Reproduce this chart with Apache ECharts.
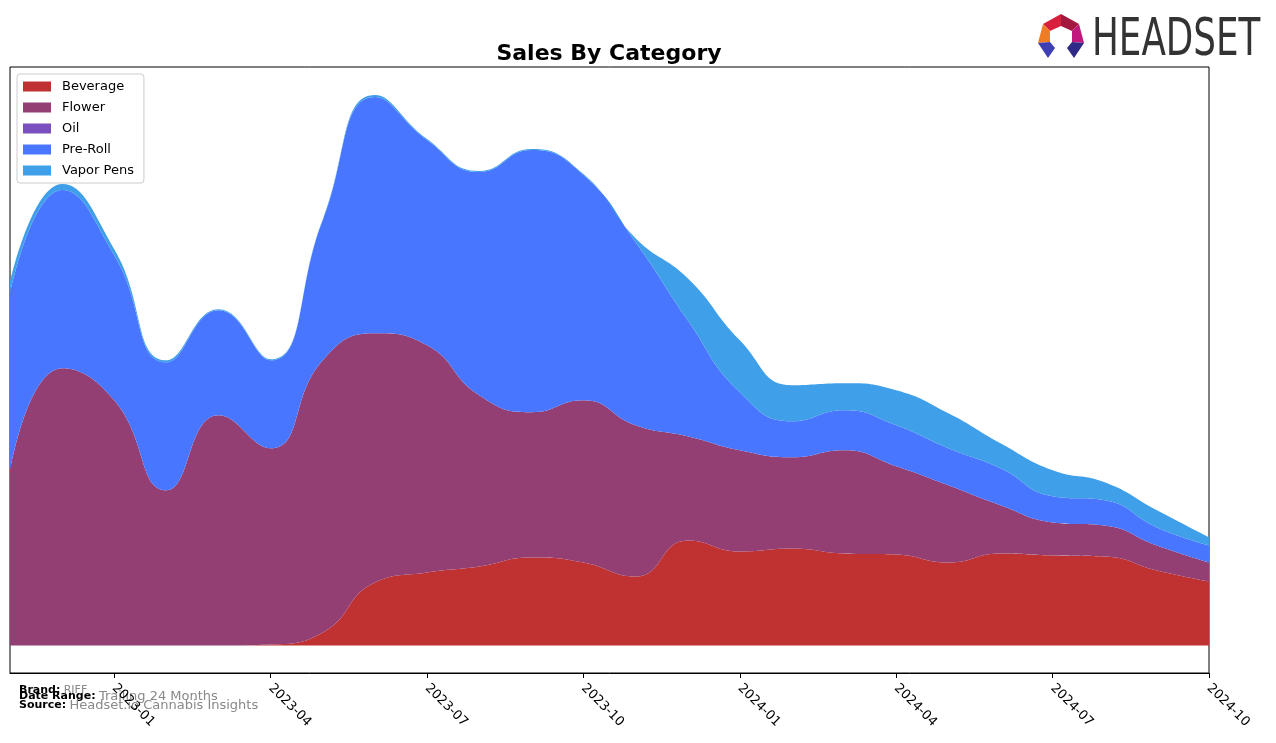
<!DOCTYPE html>
<html>
<head>
<meta charset="utf-8">
<script src="https://cdn.jsdelivr.net/npm/echarts@6/dist/echarts.min.js"></script>
<style>
html,body{margin:0;padding:0;background:#fff;}
#chart{width:1276px;height:743px;}
</style>
</head>
<body>
<div id="chart"></div>
<script>
const months = ['2022-11','2022-12','2023-01','2023-02','2023-03','2023-04','2023-05','2023-06','2023-07','2023-08','2023-09','2023-10','2023-11','2023-12','2024-01','2024-02','2024-03','2024-04','2024-05','2024-06','2024-07','2024-08','2024-09','2024-10'];
const tickLabels = ['2023-01','2023-04','2023-07','2023-10','2024-01','2024-04','2024-07','2024-10'];
const beverage  = [0,0,0,0,0,1,13,63,73,79,88,83,69,105,94,97,92,91,83,92,90,89,75,64];
const flower    = [175,277,245,155,230,196,272,249,227,171,145,162,151,104,101,91,103,88,77,48,33,31,25,19];
const oil       = [0,0,0,0,0,0,0,0,0,0,0,0,0,0,0,0,0,0,0,0,0,0,0,0];
const preRoll   = [177,178,145,128,105,88,140,236,205,223,262,225,183,116,58,36,40,41,37,37,26,25,18,17];
const vaporPens = [11,6,6,2,1,1,1,2,1,1,1,1,4,42,52,36,27,35,35,25,26,18,17,8];

const seriesNames = ['Beverage','Flower','Oil','Pre-Roll','Vapor Pens'];
const seriesData = [beverage, flower, oil, preRoll, vaporPens];
const colors = ['#c03232','#943f74','#7a4fbf','#4876ff','#3f9fe8'];

const chart = echarts.init(document.getElementById('chart'), null, {renderer:'canvas'});
const isTick = (i, v) => tickLabels.indexOf(v) >= 0;

chart.setOption({
  animation: false,
  backgroundColor: '#fff',
  color: colors,
  title: {
    text: 'Sales By Category',
    left: 609, top: 43, textAlign: 'center', padding: 0,
    textStyle: {fontFamily: 'DejaVu Sans', fontWeight: 'bold', fontSize: 22, color: '#000'}
  },
  legend: {
    orient: 'vertical', left: 17, top: 74,
    data: seriesNames,
    icon: 'rect', itemWidth: 28, itemHeight: 10, itemGap: 8,
    padding: [6, 10, 6, 6],
    backgroundColor: 'rgba(255,255,255,0.8)',
    borderColor: '#cccccc', borderWidth: 1, borderRadius: 3,
    textStyle: {fontFamily: 'DejaVu Sans', fontSize: 13, color: '#000', padding: [0,0,0,6]},
    selectedMode: false
  },
  grid: {left: 10, right: 67, top: 67, bottom: 70, show: true, borderColor: '#000', borderWidth: 1, backgroundColor: 'transparent'},
  xAxis: {
    type: 'category', data: months, boundaryGap: false,
    axisLine: {show: true, onZero: false, lineStyle: {color: '#000', width: 1}},
    axisTick: {show: true, interval: isTick, length: 5, lineStyle: {color: '#000'}},
    axisLabel: {show: true, interval: isTick, rotate: -45, margin: 13,
      fontFamily: 'DejaVu Sans', fontSize: 13, color: '#000'},
    splitLine: {show: false}
  },
  yAxis: {
    type: 'value', min: -27.5, max: 578, show: false, splitLine: {show: false}
  },
  series: seriesNames.map((n, i) => ({
    name: n, type: 'line', stack: 'total', data: seriesData[i],
    smooth: 0.5, symbol: 'none',
    lineStyle: {width: 0},
    areaStyle: {color: colors[i], opacity: 1},
    itemStyle: {color: colors[i]},
    z: 2 + i
  })),
  graphic: [
    {type: 'polygon', shape: {points: [[1043,24],[1061,14],[1061,26],[1050,31]]}, style: {fill: '#d8203c'}},
    {type: 'polygon', shape: {points: [[1061,14],[1079,24],[1072,31],[1061,26]]}, style: {fill: '#a3183e'}},
    {type: 'polygon', shape: {points: [[1043,24],[1050,31],[1050,42],[1038,43]]}, style: {fill: '#f07c26'}},
    {type: 'polygon', shape: {points: [[1079,24],[1084,43],[1072,42],[1072,31]]}, style: {fill: '#c0187c'}},
    {type: 'polygon', shape: {points: [[1038,43],[1050,42],[1055,48],[1048,58]]}, style: {fill: '#3f3fb5'}},
    {type: 'polygon', shape: {points: [[1072,42],[1084,43],[1074,58],[1067,48]]}, style: {fill: '#2e2a86'}},
    {type: 'text', left: 1092, top: 16, scaleX: 0.70,
      style: {text: 'HEADSET', fontFamily: 'DejaVu Sans', fontSize: 51, fill: '#333333'}},
    {type: 'text', left: 19, top: 684,
      style: {text: '{b|Brand:} {g|RIFF}', rich: {b: {fontFamily: 'DejaVu Sans', fontWeight: 'bold', fontSize: 11, fill: '#000'}, g: {fontFamily: 'DejaVu Sans', fontSize: 11, fill: '#888'}}}},
    {type: 'text', left: 19, top: 690,
      style: {text: '{b|Date Range:} {g|Trailing 24 Months}', rich: {b: {fontFamily: 'DejaVu Sans', fontWeight: 'bold', fontSize: 11, fill: '#000'}, g: {fontFamily: 'DejaVu Sans', fontSize: 13, fill: '#888'}}}},
    {type: 'text', left: 19, top: 699,
      style: {text: '{b|Source:} {g|Headset.io Cannabis Insights}', rich: {b: {fontFamily: 'DejaVu Sans', fontWeight: 'bold', fontSize: 11, fill: '#000'}, g: {fontFamily: 'DejaVu Sans', fontSize: 13, fill: '#888'}}}}
  ]
});
</script>
</body>
</html>
